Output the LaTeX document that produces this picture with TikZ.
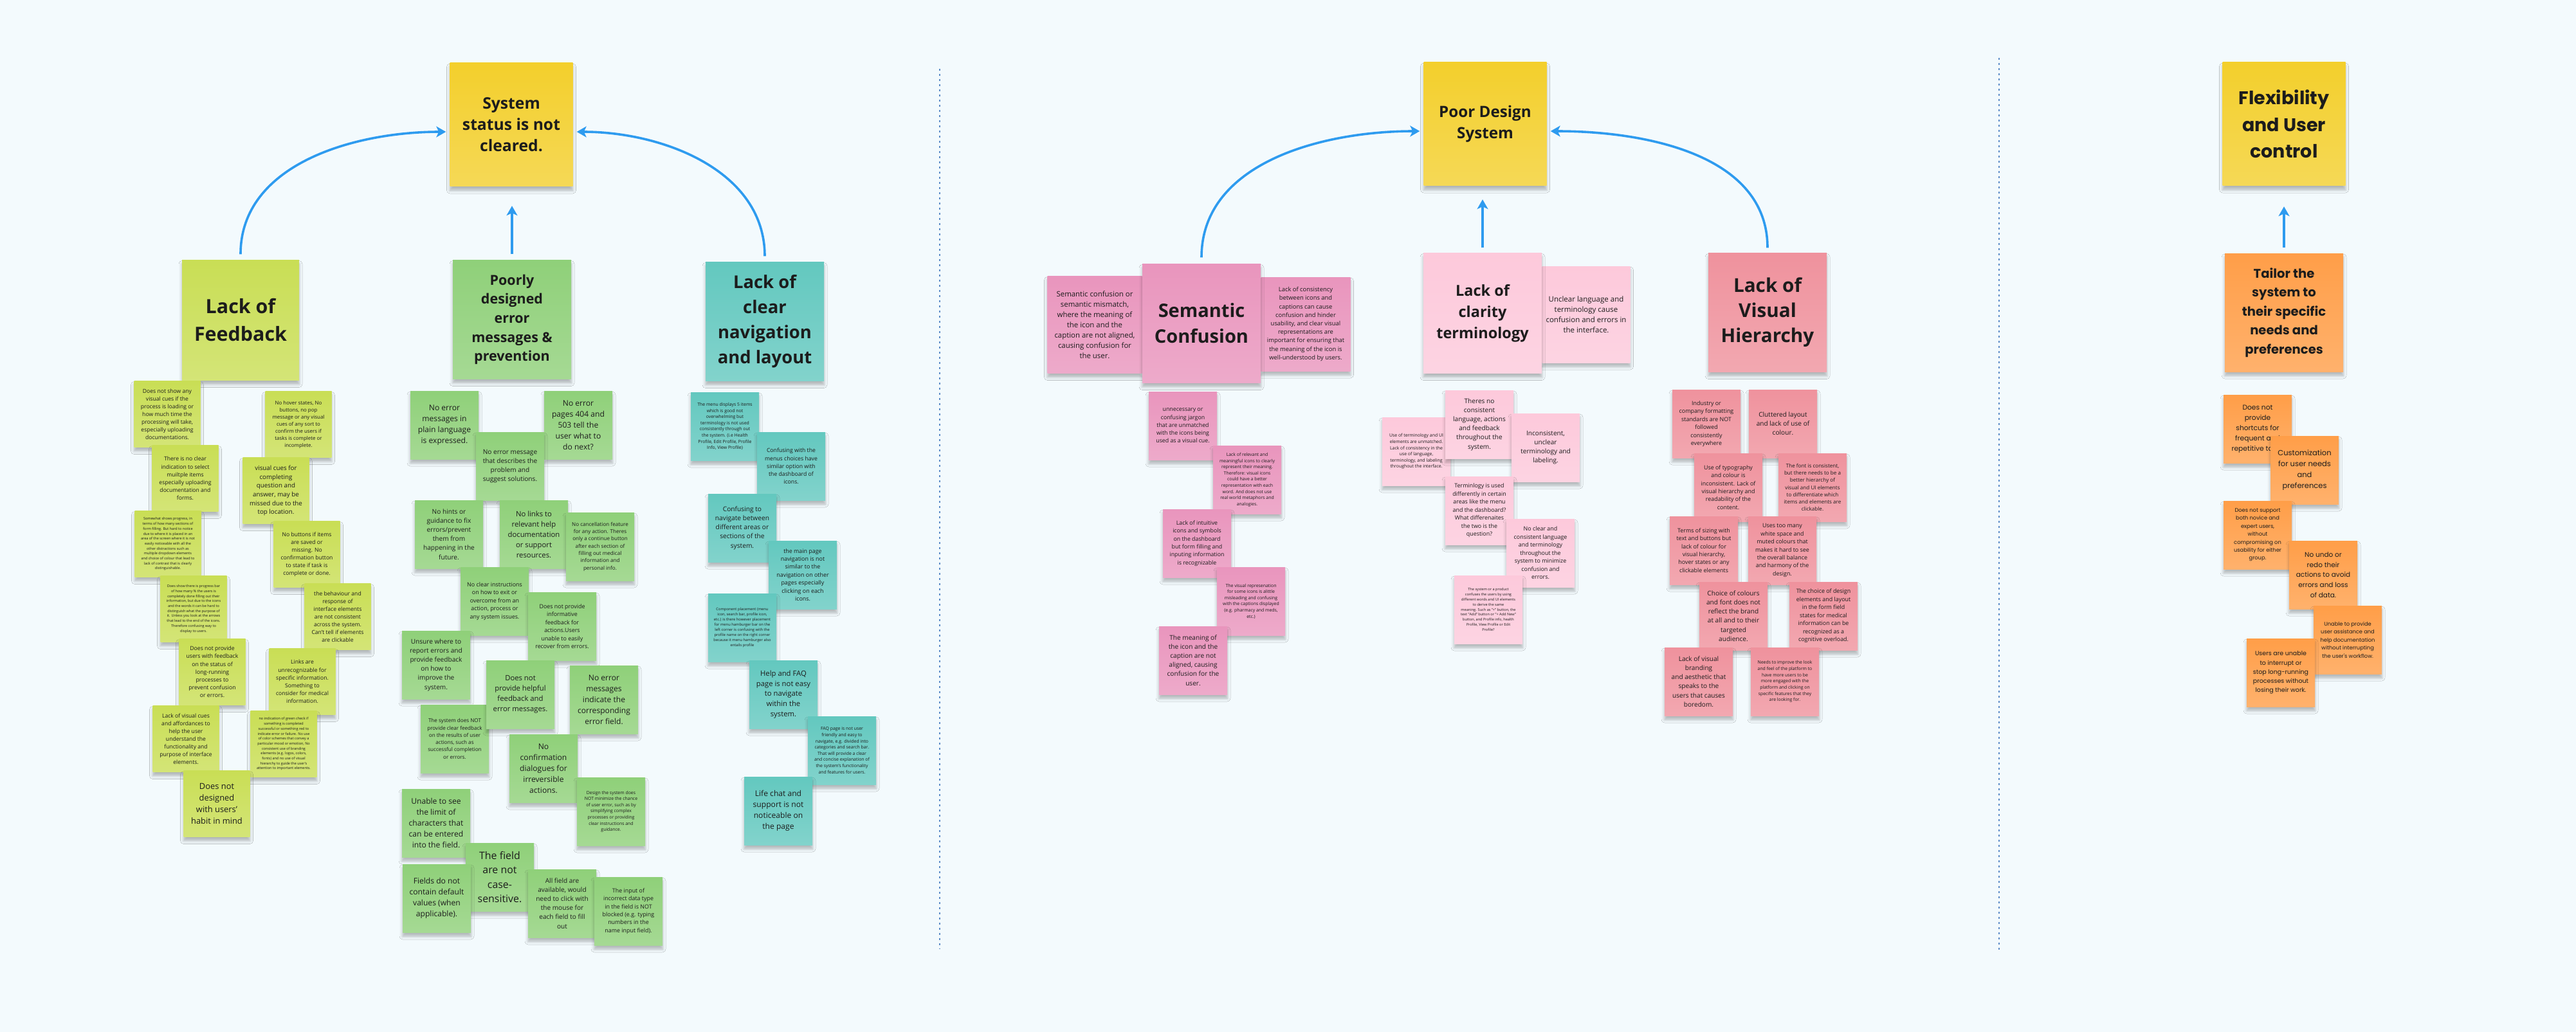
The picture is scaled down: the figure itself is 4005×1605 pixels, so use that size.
\documentclass[tikz,border=0pt]{standalone}
\usepackage{fontspec}
\setmainfont{Open Sans}
\newfontfamily\popfont{Poppins}
\usepackage{xcolor}
\usepackage{tikz}
\usetikzlibrary{arrows.meta,shadows.blur}
\definecolor{bgpaper}{HTML}{F3FAFD}
\definecolor{ink}{HTML}{1C1C1C}
\definecolor{arrowblue}{HTML}{2E9BEF}
\definecolor{dotline}{HTML}{5E8DC8}
\definecolor{yellowhead}{HTML}{F3CF2C}
\definecolor{limenote}{HTML}{C9DE55}
\definecolor{greennote}{HTML}{8FD079}
\definecolor{tealnote}{HTML}{63C8BF}
\definecolor{pinknote}{HTML}{E995BD}
\definecolor{blushnote}{HTML}{FDC9DB}
\definecolor{rosenote}{HTML}{EF929D}
\definecolor{orangenote}{HTML}{FF9E48}

\begin{document}
\begin{tikzpicture}[x=1pt,y=-1pt,
  sticky/.style={rectangle,inner sep=0pt,align=center,text=ink,minimum width=105pt,minimum height=105pt,blur shadow={shadow xshift=0pt,shadow yshift=-6pt,shadow blur radius=5pt,shadow opacity=28}},
  paper/.style={sticky,top color=#1,bottom color=#1!80!white},
  yhead/.style={paper=yellowhead,minimum width=191pt,minimum height=192pt},
  head/.style={minimum width=184pt,minimum height=185pt},
  lime/.style={paper=limenote,minimum width=103pt,minimum height=103pt},
  green/.style={paper=greennote,minimum width=106pt,minimum height=106pt},
  teal/.style={paper=tealnote,minimum width=106pt,minimum height=106pt},
  pink/.style={paper=pinknote,minimum width=106pt,minimum height=106pt},
  blush/.style={paper=blushnote,minimum width=106pt,minimum height=106pt},
  rose/.style={paper=rosenote,minimum width=106pt,minimum height=106pt},
  orange/.style={paper=orangenote,minimum width=106pt,minimum height=106pt},
  fs/.style 2 args={font=\fontsize{#1}{#2}\selectfont},
  fsb/.style 2 args={font=\fontsize{#1}{#2}\selectfont\bfseries},
  pf/.style 2 args={font=\popfont\fontsize{#1}{#2}\selectfont},
  pfb/.style 2 args={font=\popfont\fontsize{#1}{#2}\selectfont\bfseries},
  link/.style={-{Stealth[length=15pt,width=17pt,inset=4pt]},arrowblue,line width=3.6pt},
  sepline/.style={dotline,line width=2.6pt,dash pattern=on 2.6pt off 5.4pt}]
\fill[bgpaper] (0,0) rectangle (4005,1605);
\useasboundingbox (0,0) rectangle (4005,1605);

\draw[sepline] (1461,107) -- (1461,1476);
\draw[sepline] (3108,90) -- (3108,1481);

\node[yhead,fsb={24.7}{33}] (sys) at (795,194) {System\\status is not\\cleared.};
\node[lime,head,fsb={30.4}{43},minimum width=182pt,minimum height=187pt] (fb) at (374,498) {Lack of\\Feedback};
\node[green,head,fsb={21.5}{29.6}] (err) at (796,497) {Poorly\\designed\\error\\messages \&\\prevention};
\node[teal,head,fsb={27.4}{38.8}] (nav) at (1189,500) {Lack of\\clear\\navigation\\and layout};
\draw[link,shorten <=9pt,shorten >=6pt] (fb.north) to[out=90,in=180] ([yshift=-11pt]sys.west);
\draw[link,shorten <=9pt,shorten >=30pt] (err.north) -- (err.north |- sys.south);
\draw[link,shorten <=9pt,shorten >=6pt] (nav.north) to[out=90,in=0] ([yshift=-11pt]sys.east);

\node[lime,fs={8.6}{12}] (fb1) at (260,644) {Does not show any\\visual cues if the\\process is loading or\\how much time the\\processing will take,\\especially uploading\\documentations.};
\node[lime,fs={7.9}{11}] (fb2) at (464,660) {No hover states, No\\buttons, no pop\\message or any visual\\cues of any sort to\\confirm the users if\\tasks is complete or\\incomplete.};
\node[lime,fs={8.6}{12.1}] (fb3) at (288,744) {There is no clear\\indication to select\\muiltple items\\especially uploading\\documentation and\\forms.};
\node[lime,fs={9.8}{13.7}] (fb4) at (429,763) {visual cues for\\completing\\question and\\answer, may be\\missed due to the\\top location.};
\node[lime,fs={5.5}{7.7}] (fb5) at (261,846) {Somewhat shows progress, in\\terms of how many sections of\\form filling. But hard to notice\\due to where it is placed in an\\area of the screen where it is not\\easily noticeable with all the\\other distractions such as\\multiple dropdown elements\\and choice of colour that lead to\\lack of contrast that is clearly\\distinguishable.};
\node[lime,fs={8.6}{12.1}] (fb6) at (477,862) {No buttons if items\\are saved or\\missing. No\\confirmation button\\to state if task is\\complete or done.};
\node[lime,fs={5.5}{7.7}] (fb7) at (301,947) {Does show there is progress bar\\of how many \% the users is\\completely done filling out their\\information, but due to the icons\\and the words it can be hard to\\distinguish what the purpose of\\it. Unless you look at the arrows\\that lead to the end of the icons.\\Therefore confusing way to\\display to users.};
\node[lime,fs={8.6}{12}] (fb8) at (525,959) {the behaviour and\\response of\\interface elements\\are not consistent\\across the system.\\Can't tell if elements\\are clickable};
\node[lime,fs={8.7}{12.2}] (fb9) at (330,1045) {Does not provide\\users with feedback\\on the status of\\long-running\\processes to\\prevent confusion\\or errors.};
\node[lime,fs={8.6}{12.1}] (fb10) at (470,1060) {Links are\\unrecognizable for\\specific information.\\Something to\\consider for medical\\information.};
\node[lime,fs={8.6}{12}] (fb11) at (289,1149) {Lack of visual cues\\and affordances to\\help the user\\understand the\\functionality and\\purpose of interface\\elements.};
\node[lime,fs={5.5}{7.7}] (fb12) at (441,1157) {no indication of green check if\\something is completed\\successful or something red to\\indicate error or failure. No use\\of color schemes that convey a\\particular mood or emotion, No\\consistent use of branding\\elements (e.g. logos, colors,\\fonts) and no use of visual\\hierarchy to guide the user's\\attention to important elements.};
\node[lime,fs={12.9}{18}] (fb13) at (337,1250) {Does not\\designed\\with users'\\habit in mind};

\node[green,fs={12.1}{17}] (er1) at (691,661) {No error\\messages in\\plain language\\is expressed.};
\node[green,fs={12.1}{16.9}] (er2) at (899,661) {No error\\pages 404 and\\503 tell the\\user what to\\do next?};
\node[green,fs={10.1}{14.1}] (er3) at (793,725) {No error message\\that describes the\\problem and\\suggest solutions.};
\node[green,fs={10.1}{14.1}] (er4) at (698,831) {No hints or\\guidance to fix\\errors/prevent\\them from\\happening in the\\future.};
\node[green,fs={11.3}{15.9}] (er5) at (830,831) {No links to\\relevant help\\documentation\\or support\\resources.};
\node[green,fs={8.1}{11.3}] (er6) at (933,850) {No cancellation feature\\for any action. Theres\\only a continue button\\after each section of\\filling out medical\\information and\\personal info.};
\node[green,fs={8.9}{12.5}] (er7) at (769,935) {No clear instructions\\on how to exit or\\overcome from an\\action, process or\\any system issues.};
\node[green,fs={8.9}{12.5}] (er8) at (874,974) {Does not provide\\informative\\feedback for\\actions.Users\\unable to easily\\recover from errors.};
\node[green,fs={10.1}{14.2}] (er9) at (678,1034) {Unsure where to\\report errors and\\provide feedback\\on how to\\improve the\\system.};
\node[green,fs={8.1}{11.3}] (er12) at (707,1149) {The system does NOT\\provide clear feedback\\on the results of user\\actions, such as\\successful completion\\or errors.};
\node[green,fs={11.3}{15.8}] (er10) at (809,1080) {Does not\\provide helpful\\feedback and\\error messages.};
\node[green,fs={12.1}{17}] (er11) at (939,1088) {No error\\messages\\indicate the\\corresponding\\error field.};
\node[green,fs={12.1}{17}] (er13) at (845,1195) {No\\confirmation\\dialogues for\\irreversible\\actions.};
\node[green,fs={6.9}{9.6}] (er14) at (950,1262) {Design the system does\\NOT minimize the chance\\of user error, such as by\\simplifying complex\\processes or providing\\clear instructions and\\guidance.};
\node[green,fs={12.1}{17}] (er15) at (678,1280) {Unable to see\\the limit of\\characters that\\can be entered\\into the field.};
\node[green,fs={15.9}{22.2}] (er16) at (777,1364) {The field\\are not\\case-\\sensitive.};
\node[green,fs={12.1}{17}] (er17) at (679,1397) {Fields do not\\contain default\\values (when\\applicable).};
\node[green,fs={10.1}{14.1}] (er18) at (874,1405) {All field are\\available, would\\need to click with\\the mouse for\\each field to fill\\out};
\node[green,fs={8.9}{12.4}] (er19) at (977,1417) {The input of\\incorrect data type\\in the field is NOT\\blocked (e.g. typing\\numbers in the\\name input field).};

\node[teal,fs={6.9}{9.6}] (nv1) at (1127,663) {The menu displays 5 items\\which is good not\\overwhelming but\\terminology is not used\\consistently through out\\the system. (i.e Health\\Profile, Edit Profile, Profile\\Info, View Profile)};
\node[teal,fs={8.7}{12.2}] (nv2) at (1230,725) {Confusing with the\\menus choices have\\similar option with\\the dashboard of\\icons.};
\node[teal,fs={10.2}{14.3}] (nv3) at (1154,821) {Confusing to\\navigate between\\different areas or\\sections of the\\system.};
\node[teal,fs={8.9}{12.4}] (nv4) at (1248,894) {the main page\\navigation is not\\similar to the\\navigation on other\\pages especially\\clicking on each\\icons.};
\node[teal,fs={5.8}{8.1}] (nv5) at (1154,976) {Component placement (menu\\icon, search bar, profile icon,\\etc.) is there however placement\\for menu hamburger bar on the\\left corner is confusing with the\\profile name on the right corner\\because it menu hamburger also\\entails profile};
\node[teal,fs={11.3}{15.8}] (nv6) at (1218,1080) {Help and FAQ\\page is not easy\\to navigate\\within the\\system.};
\node[teal,fs={6.9}{9.6}] (nv7) at (1309,1167) {FAQ page is not user\\friendly and easy to\\navigate, e.g. divided into\\categories and search bar.\\That will provide a clear\\and concise explanation of\\the system's functionality\\and features for users.};
\node[teal,fs={12.1}{16.9}] (nv8) at (1210,1261) {Life chat and\\support is not\\noticeable on\\the page};

\node[yhead,fsb={24.2}{33}] (pds) at (2309,193) {Poor Design\\System};
\node[pink,fs={11.4}{16},minimum width=147pt,minimum height=151pt] (semL) at (1702,505) {Semantic confusion or\\semantic mismatch,\\where the meaning of\\the icon and the\\caption are not aligned,\\causing confusion for\\the user.};
\node[pink,fs={9.4}{13.2},minimum width=139pt,minimum height=146pt] (semR) at (2030,504) {Lack of consistency\\between icons and\\captions can cause\\confusion and hinder\\usability, and clear visual\\representations are\\important for ensuring that\\the meaning of the icon is\\well-understood by users.};
\node[pink,head,fsb={29}{40}] (sem) at (1868,503) {Semantic\\Confusion};
\node[blush,fs={11.5}{16.1},minimum width=137pt,minimum height=150pt] (clarR) at (2466,489) {Unclear language and\\terminology cause\\confusion and errors in\\the interface.};
\node[blush,head,fsb={23.5}{33},minimum height=187pt] (clar) at (2305,487) {Lack of\\clarity\\terminology};
\node[rose,head,fsb={29.7}{39}] (vis) at (2748,486) {Lack of\\Visual\\Hierarchy};
\draw[link,shorten <=10pt,shorten >=6pt] (sem.north) to[out=90,in=180] ([yshift=-11pt]pds.west);
\draw[link,shorten <=8pt,shorten >=21pt] (clar.north) -- (clar.north |- pds.south);
\draw[link,shorten <=8pt,shorten >=6pt] (vis.north) to[out=90,in=0] ([yshift=-11pt]pds.east);

\node[pink,fs={8.8}{12.3}] (se1) at (1839,662) {unnecessary or\\confusing jargon\\that are unmatched\\with the icons being\\used as a visual cue.};
\node[pink,fs={6.9}{9.6}] (se2) at (1939,746) {Lack of relevant and\\meaningful icons to clearly\\represent their meaning.\\Therefore: visual icons\\could have a better\\representation with each\\word. And does not use\\real world metaphors and\\analogies.};
\node[pink,fs={8.8}{12.4}] (se3) at (1861,845) {Lack of intuitive\\icons and symbols\\on the dashboard\\but form filling and\\inputing information\\is recognizable};
\node[pink,fs={6.9}{9.6}] (se4) at (1945,935) {The visual represenation\\for some icons is alittle\\misleading and confusing\\with the captions displayed\\(e.g. pharmacy and meds,\\etc.)};
\node[pink,fs={10.1}{14.1}] (se5) at (1855,1027) {The meaning of\\the icon and the\\caption are not\\aligned, causing\\confusion for the\\user.};

\node[blush,fs={6.9}{9.6}] (cl2) at (2202,702) {Use of terminology and UI\\elements are unmatched.\\Lack of consistency in the\\use of language,\\terminology, and labeling\\throughout the interface.};
\node[blush,fs={10.1}{14.2}] (cl1) at (2300,660) {Theres no\\consistent\\language, actions\\and feedback\\throughout the\\system.};
\node[blush,fs={10.1}{14.1}] (cl3) at (2403,696) {Inconsistent,\\unclear\\terminology and\\labeling.};
\node[blush,fs={8.9}{12.5}] (cl4) at (2300,794) {Terminlogy is used\\differently in certain\\areas like the menu\\and the dashboard?\\What differenaites\\the two is the\\question?};
\node[blush,fs={8.9}{12.5}] (cl5) at (2395,860) {No clear and\\consistent language\\and terminology\\throughout the\\system to minimize\\confusion and\\errors.};
\node[blush,fs={5.6}{7.9}] (cl6) at (2314,948) {The system or a product\\confuses the users by using\\different words and UI elements\\to derive the same\\meaning. Such as "+" button, the\\text "Add" button or "+ Add New"\\button, and Profile info, health\\Profile, View Profile or Edit\\Profile?};

\node[rose,fs={8.9}{12.5}] (vh1) at (2653,659) {Industry or\\company formatting\\standards are NOT\\followed\\consistently\\everywhere};
\node[rose,fs={10.1}{14.1}] (vh2) at (2772,659) {Cluttered layout\\and lack of use of\\colour.};
\node[rose,fs={8.9}{12.4}] (vh3) at (2687,758) {Use of typography\\and colour is\\inconsistent. Lack of\\visual hierarchy and\\readability of the\\content.};
\node[rose,fs={8.1}{11.3}] (vh4) at (2818,758) {The font is consistent,\\but there needs to be a\\better hierarchy of\\visual and UI elements\\to differentiate which\\items and elements are\\clickable.};
\node[rose,fs={8.9}{12.4}] (vh5) at (2649,856) {Terms of sizing with\\text and buttons but\\lack of colour for\\visual hierarchy,\\hover states or any\\clickable elements};
\node[rose,fs={8.9}{12.4}] (vh6) at (2771,856) {Uses too many\\white space and\\muted colours that\\makes it hard to see\\the overall balance\\and harmony of the\\design.};
\node[rose,fs={10.1}{14.2}] (vh7) at (2695,958) {Choice of colours\\and font does not\\reflect the brand\\at all and to their\\targeted\\audience.};
\node[rose,fs={8.9}{12.5}] (vh8) at (2835,958) {The choice of design\\elements and layout\\in the form field\\states for medical\\information can be\\recognized as a\\cognitive overload.};
\node[rose,fs={10.1}{14.2}] (vh9) at (2641,1060) {Lack of visual\\branding\\and aesthetic that\\speaks to the\\users that causes\\boredom.};
\node[rose,fs={6.9}{9.7}] (vh10) at (2775,1060) {Needs to improve the look\\and feel of the platform to\\have more users to be\\more engaged with the\\platform and clicking on\\specific features that they\\are looking for.};

\node[yhead,pfb={28.5}{41.5}] (flex) at (3551,193) {Flexibility\\and User\\control};
\node[orange,head,pfb={19.6}{29.4},minimum height=184pt] (tail) at (3551,486) {Tailor the\\system to\\their specific\\needs and\\preferences};
\draw[link,shorten <=9pt,shorten >=32pt] (tail.north) -- (flex.south);
\node[orange,pf={10.7}{16}] (fx1) at (3510,667) {Does not\\provide\\shortcuts for\\frequent and\\repetitive tasks};
\node[orange,pf={11.5}{17.2}] (fx2) at (3583,731) {Customization\\for user needs\\and\\preferences};
\node[orange,pf={8.3}{12.4}] (fx3) at (3510,832) {Does not support\\both novice and\\expert users,\\without\\compromising on\\usability for either\\group.};
\node[orange,pf={10.5}{15.8}] (fx4) at (3612,894) {No undo or\\redo their\\actions to avoid\\errors and loss\\of data.};
\node[orange,pf={8.3}{12.5}] (fx5) at (3650,995) {Unable to provide\\user assistance and\\help documentation\\without interrupting\\the user's workflow.};
\node[orange,pf={9.5}{14.2}] (fx6) at (3546,1046) {Users are unable\\to interrupt or\\stop long-running\\processes without\\losing their work.};
\end{tikzpicture}
\end{document}
